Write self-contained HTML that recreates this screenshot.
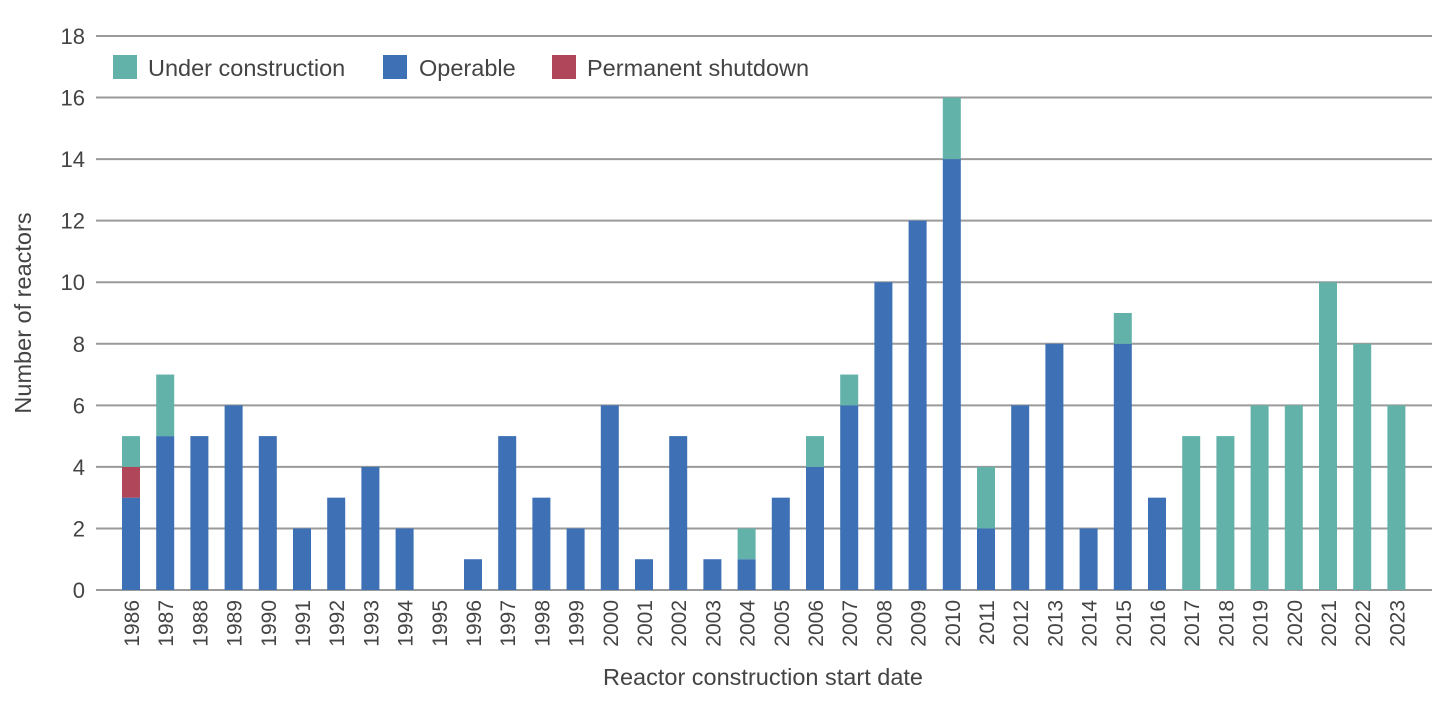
<!DOCTYPE html>
<html><head><meta charset="utf-8">
<style>
html,body{margin:0;padding:0;background:#fff;}
svg{display:block;font-family:"Liberation Sans",Arial,sans-serif;}
</style></head>
<body>
<svg id="c" width="1454" height="704" xmlns="http://www.w3.org/2000/svg"></svg>
<script>
const s=document.getElementById('c');
const NS='http://www.w3.org/2000/svg';
function el(t,a,txt){const e=document.createElementNS(NS,t);for(const k in a)e.setAttribute(k,a[k]);if(txt!==undefined)e.textContent=txt;s.appendChild(e);return e;}
const y0=590,u=30.78;
for(let v=0;v<=18;v+=2){const y=y0-v*u;
 el('line',{x1:96,x2:1432,y1:y,y2:y,stroke:'#9a9a9a','stroke-width':2});
 el('text',{x:85,y:y+8,'text-anchor':'end','font-size':22,fill:'#444'},v);}
const d=[[3,1,1],[5,0,2],[5,0,0],[6,0,0],[5,0,0],[2,0,0],[3,0,0],[4,0,0],[2,0,0],[0,0,0],[1,0,0],[5,0,0],[3,0,0],[2,0,0],[6,0,0],[1,0,0],[5,0,0],[1,0,0],[1,0,1],[3,0,0],[4,0,1],[6,0,1],[10,0,0],[12,0,0],[14,0,2],[2,0,2],[6,0,0],[8,0,0],[2,0,0],[8,0,1],[3,0,0],[0,0,5],[0,0,5],[0,0,6],[0,0,6],[0,0,10],[0,0,8],[0,0,6]];
d.forEach((r,i)=>{const cx=131+i*34.2;let b=0;
 [['#3d70b4',r[0]],['#b0465a',r[1]],['#62b2aa',r[2]]].forEach(([c,v])=>{if(v>0){el('rect',{x:cx-9,y:y0-(b+v)*u,width:18,height:v*u,fill:c});b+=v;}});
 el('text',{x:0,y:0,transform:`translate(${cx+8},600) rotate(-90)`,'text-anchor':'end','font-size':21,fill:'#444'},1986+i);
});
el('text',{x:763,y:685,'text-anchor':'middle','font-size':23.5,fill:'#444'},'Reactor construction start date');
el('text',{x:0,y:0,transform:'translate(31,313) rotate(-90)','text-anchor':'middle','font-size':23.5,fill:'#444'},'Number of reactors');
[[113,'#62b2aa',148,'Under construction'],[383,'#3d70b4',419,'Operable'],[552,'#b0465a',587,'Permanent shutdown']].forEach(([x,c,tx,t])=>{
 el('rect',{x:x,y:55,width:24,height:24,fill:c});
 el('text',{x:tx,y:76,'font-size':23.5,fill:'#444'},t);});
</script>
</body></html>
